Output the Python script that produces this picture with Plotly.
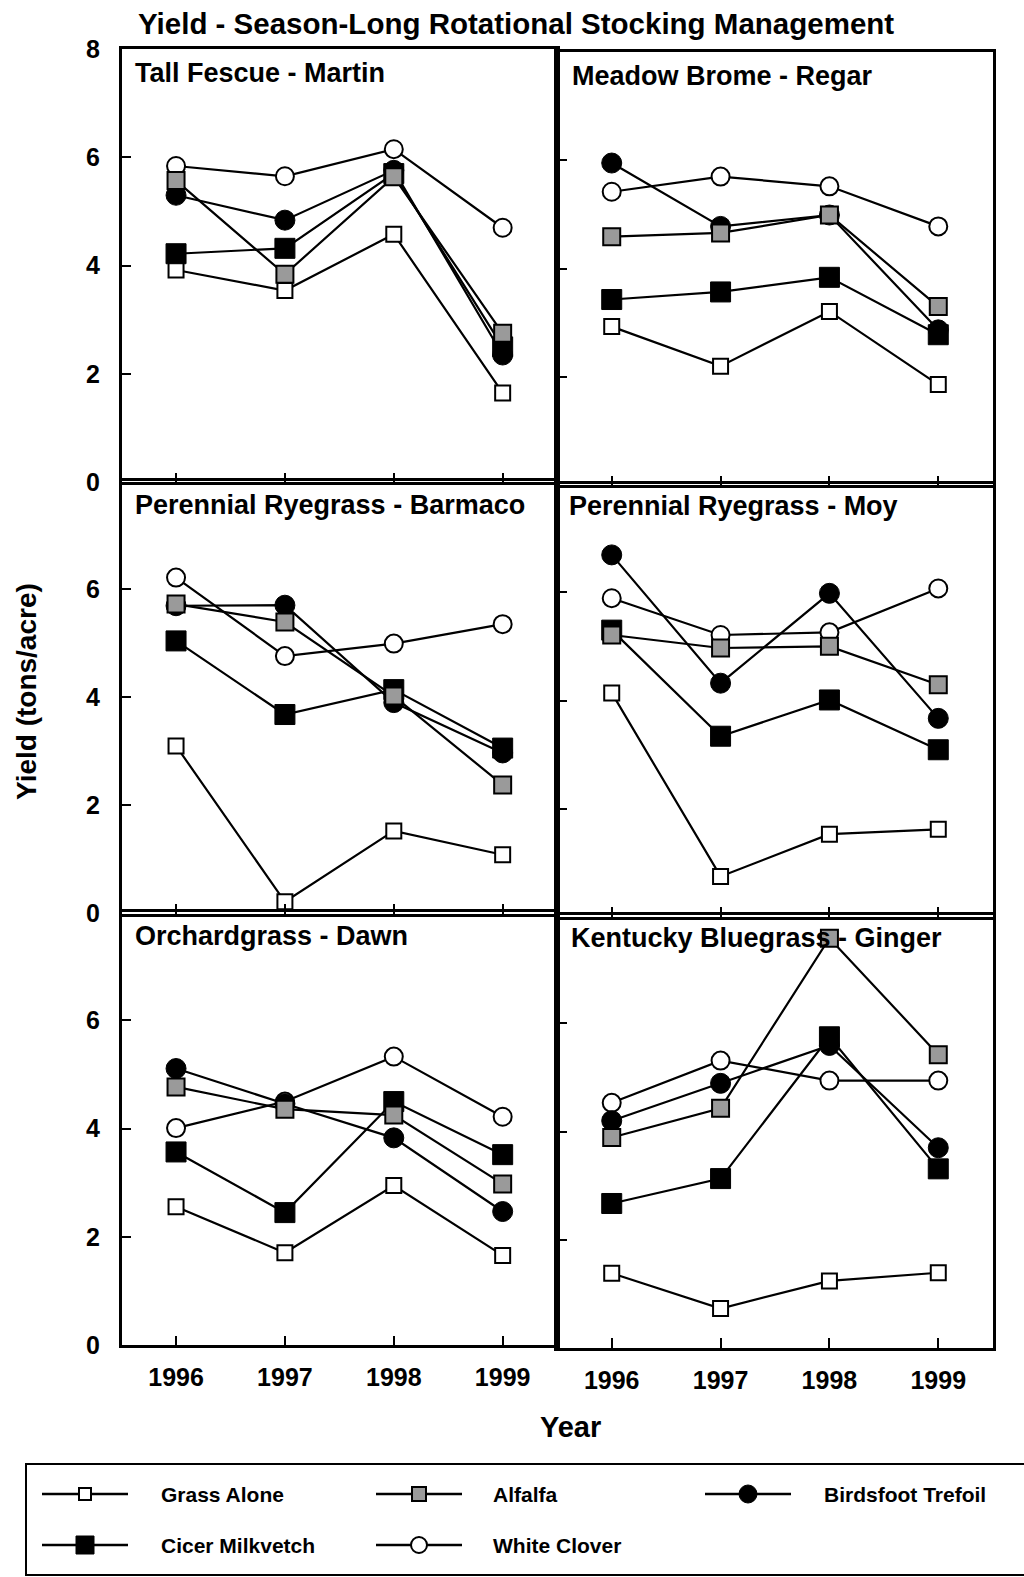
import plotly.graph_objects as go

# ---------------- data ----------------
years = [1996, 1997, 1998, 1999]
panel_names = [
    "Tall Fescue - Martin",
    "Meadow Brome - Regar",
    "Perennial Ryegrass - Barmaco",
    "Perennial Ryegrass - Moy",
    "Orchardgrass - Dawn",
    "Kentucky Bluegrass - Ginger",
]
series_names = ["Grass Alone", "Alfalfa", "Birdsfoot Trefoil", "Cicer Milkvetch", "White Clover"]

# one list of 4 yearly values per panel (panel order as above)
grass_alone = [
    [3.92, 3.54, 4.58, 1.65],
    [2.93, 2.20, 3.21, 1.86],
    [3.10, 0.22, 1.53, 1.09],
    [4.14, 0.75, 1.53, 1.62],
    [2.56, 1.71, 2.95, 1.66],
    [1.38, 0.73, 1.24, 1.39],
]
alfalfa = [
    [5.57, 3.84, 5.64, 2.75],
    [4.59, 4.66, 4.99, 3.30],
    [5.72, 5.39, 4.02, 2.38],
    [5.21, 4.97, 5.00, 4.29],
    [4.77, 4.36, 4.25, 2.98],
    [3.89, 4.43, 7.57, 5.42],
]
birdsfoot_trefoil = [
    [5.30, 4.84, 5.76, 2.35],
    [5.95, 4.78, 4.99, 2.87],
    [5.69, 5.70, 3.90, 2.97],
    [6.69, 4.32, 5.98, 3.67],
    [5.11, 4.46, 3.83, 2.47],
    [4.20, 4.89, 5.59, 3.70],
]
cicer_milkvetch = [
    [4.22, 4.32, 5.70, 2.50],
    [3.43, 3.57, 3.84, 2.78],
    [5.04, 3.68, 4.14, 3.06],
    [5.30, 3.34, 4.01, 3.09],
    [3.57, 2.45, 4.50, 3.52],
    [2.67, 3.13, 5.75, 3.31],
]
white_clover = [
    [5.84, 5.65, 6.15, 4.70],
    [5.42, 5.70, 5.52, 4.78],
    [6.21, 4.76, 4.99, 5.35],
    [5.89, 5.21, 5.26, 6.07],
    [4.01, 4.50, 5.33, 4.22],
    [4.53, 5.31, 4.94, 4.94],
]
y_ticks_top = [0, 2, 4, 6, 8]
y_ticks = [0, 2, 4, 6]

# ---------------- styles ----------------
W, H = 1024, 1577
FONT = "Liberation Sans, Arial, Helvetica, sans-serif"
GRAY = "#9a9a9a"

styles = {
    "Grass Alone":       dict(symbol="square", size=15, color="white", lw=2),
    "Alfalfa":           dict(symbol="square", size=17, color=GRAY, lw=2),
    "Birdsfoot Trefoil": dict(symbol="circle", size=20, color="black", lw=1),
    "Cicer Milkvetch":   dict(symbol="square", size=20, color="black", lw=1),
    "White Clover":      dict(symbol="circle", size=18, color="white", lw=2),
}
legend_marker_size = {"Grass Alone": 12, "Alfalfa": 14, "Birdsfoot Trefoil": 18,
                      "Cicer Milkvetch": 18, "White Clover": 16}
series_data = {
    "Grass Alone": grass_alone,
    "Alfalfa": alfalfa,
    "Birdsfoot Trefoil": birdsfoot_trefoil,
    "Cicer Milkvetch": cicer_milkvetch,
    "White Clover": white_clover,
}
draw_order = ["Grass Alone", "White Clover", "Birdsfoot Trefoil", "Cicer Milkvetch", "Alfalfa"]

# panel geometry in pixels
col_x = [(121.6, 557.1), (557.3, 992.7)]
row_y = [[(49.0, 482.3), (480.7, 913.7), (912.0, 1345.3)],
         [(52.0, 485.3), (484.0, 917.0), (915.0, 1348.0)]]
label_pos = [(133, 73), (570, 76), (133, 505), (567, 506), (133, 936), (569, 938)]


def px(x):
    return x / W


def py(y):
    return 1 - y / H


fig = go.Figure()
layout = dict(
    width=W, height=H, autosize=False,
    margin=dict(l=0, r=0, t=0, b=0, pad=0, autoexpand=False),
    plot_bgcolor="rgba(0,0,0,0)", paper_bgcolor="white",
    showlegend=False,
    font=dict(family=FONT, color="black"),
)

for i, name in enumerate(panel_names):
    row, col = i // 2, i % 2
    n = "" if i == 0 else str(i + 1)
    x0, x1 = col_x[col]
    ytop, ybot = row_y[col][row]
    layout["xaxis" + n] = dict(
        domain=[px(x0), px(x1)], range=[1995.5, 1999.5],
        tickvals=years, ticktext=[str(y) for y in years],
        showticklabels=(row == 2),
        ticks="inside", ticklen=10, tickwidth=2, tickcolor="black",
        showline=True, mirror=True, linecolor="black", linewidth=2.6,
        showgrid=False, zeroline=False, anchor="y" + n,
        tickfont=dict(family=FONT, size=25, weight="bold", color="black"),
        ticklabelstandoff=8,
    )
    layout["yaxis" + n] = dict(
        domain=[py(ybot), py(ytop)], range=[0, 8],
        tickvals=y_ticks_top if row == 0 else y_ticks,
        showticklabels=(col == 0),
        ticks="inside", ticklen=10, tickwidth=2, tickcolor="black",
        showline=True, mirror=True, linecolor="black", linewidth=2.6,
        showgrid=False, zeroline=False, anchor="x" + n,
        tickfont=dict(family=FONT, size=25, weight="bold", color="black"),
        ticklabelstandoff=14,
    )
    for s in draw_order:
        st = styles[s]
        fig.add_trace(go.Scatter(
            x=years, y=series_data[s][i], mode="lines+markers", name=s,
            xaxis="x" + n, yaxis="y" + n, cliponaxis=False,
            line=dict(color="black", width=2.2),
            marker=dict(symbol=st["symbol"], size=st["size"], color=st["color"],
                        line=dict(color="black", width=st["lw"])),
            hoverinfo="x+y+name",
        ))

# overlay pixel axis for legend keys and free text
layout["xaxis7"] = dict(domain=[0, 1], range=[0, W], visible=False, anchor="y7")
layout["yaxis7"] = dict(domain=[0, 1], range=[H, 0], visible=False, anchor="x7")

annotations = []
for i, name in enumerate(panel_names):
    lx, ly = label_pos[i]
    annotations.append(dict(x=lx, y=ly, xref="x7", yref="y7", text="<b>%s</b>" % name,
                            showarrow=False, xanchor="left", yanchor="middle",
                            font=dict(family=FONT, size=27, color="black")))
annotations.append(dict(x=516, y=23, xref="x7", yref="y7",
                        text="<b>Yield - Season-Long Rotational Stocking Management</b>",
                        showarrow=False, xanchor="center", yanchor="middle",
                        font=dict(family=FONT, size=29.5, color="black")))
annotations.append(dict(x=570, y=1427, xref="x7", yref="y7", text="<b>Year</b>",
                        showarrow=False, xanchor="center", yanchor="middle",
                        font=dict(family=FONT, size=29, color="black")))
annotations.append(dict(x=26, y=692, xref="x7", yref="y7", text="<b>Yield (tons/acre)</b>",
                        showarrow=False, xanchor="center", yanchor="middle", textangle=-90,
                        font=dict(family=FONT, size=28, color="black")))

# legend (manual, laid out like the original boxed key)
legend_order = ["Grass Alone", "Alfalfa", "Birdsfoot Trefoil", "Cicer Milkvetch", "White Clover"]
key_x = [42, 376, 705, 42, 376]
key_y = [1494, 1494, 1494, 1545, 1545]
label_x = [159, 491, 822, 159, 491]
key_len = 86
for k, s in enumerate(legend_order):
    st = styles[s]
    fig.add_trace(go.Scatter(
        x=[key_x[k], key_x[k] + key_len], y=[key_y[k], key_y[k]], mode="lines",
        xaxis="x7", yaxis="y7", hoverinfo="skip",
        line=dict(color="black", width=2.4),
    ))
    fig.add_trace(go.Scatter(
        x=[key_x[k] + key_len / 2], y=[key_y[k]], mode="markers",
        xaxis="x7", yaxis="y7", hoverinfo="skip",
        marker=dict(symbol=st["symbol"], size=legend_marker_size[s], color=st["color"],
                    opacity=1, line=dict(color="black", width=st["lw"])),
    ))
    annotations.append(dict(x=label_x[k], y=key_y[k], xref="x7", yref="y7",
                            text="<b>%s</b>" % s, showarrow=False,
                            xanchor="left", yanchor="middle",
                            font=dict(family=FONT, size=21, color="black")))

layout["annotations"] = annotations
layout["shapes"] = [dict(type="rect", xref="x7", yref="y7", x0=26, x1=1040, y0=1464, y1=1575,
                         line=dict(color="black", width=2), fillcolor="rgba(0,0,0,0)", layer="below")]
fig.update_layout(**layout)

fig.write_html("out.html", config={"displayModeBar": False},
               post_script="document.body.style.margin='0';document.body.style.overflow='hidden';")
